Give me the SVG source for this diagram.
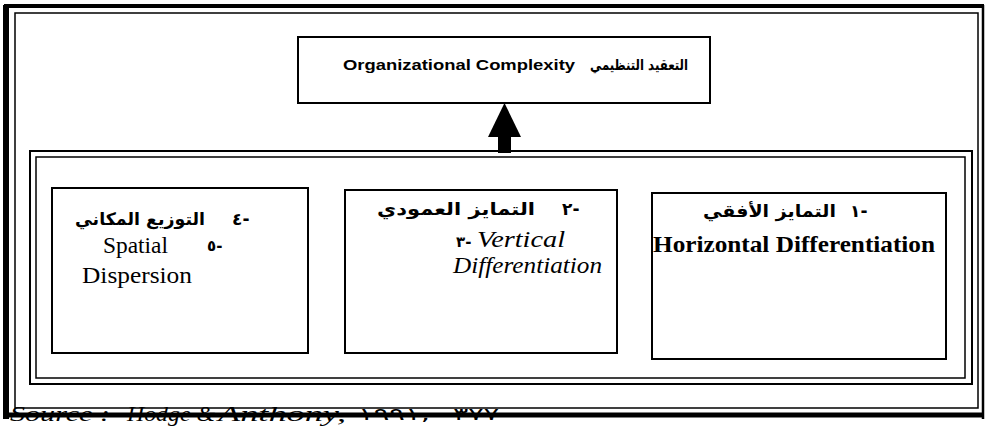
<svg xmlns="http://www.w3.org/2000/svg" width="986" height="429" viewBox="0 0 986 429">
  <style>
    .box { fill: #fff; stroke: #000; stroke-width: 2; }
    .frame { fill: none; stroke: #000; }
    .ar { font-family: "DejaVu Sans", sans-serif; font-weight: bold; fill: #000; }
    .num { font-family: "DejaVu Sans", sans-serif; font-weight: bold; fill: #000; direction: ltr; }
    .en { font-family: "Liberation Serif", "Times New Roman", serif; fill: #000; }
    .ensans { font-family: "Liberation Sans", Arial, sans-serif; font-weight: bold; fill: #000; }
    .src { font-family: "Liberation Serif", "Times New Roman", serif; font-style: italic; fill: #000; }
    .srcnum { font-family: "DejaVu Sans", sans-serif; font-weight: normal; fill: #000; }
  </style>
  <defs>
    <marker id="head" markerUnits="userSpaceOnUse" markerWidth="34" markerHeight="34" viewBox="0 0 34 34" refX="0" refY="16.5" orient="auto">
      <path d="M0,0 L34,16.5 L0,33 Z" fill="#000"/>
    </marker>
  </defs>

  <rect width="986" height="429" fill="#fff"/>

  <!-- source line, printed under the bottom border so the rule runs through it -->
  <g id="source">
    <text class="src" y="421" font-size="20">
      <tspan x="10" textLength="100" lengthAdjust="spacingAndGlyphs">Source :</tspan>
      <tspan x="127" textLength="88" lengthAdjust="spacingAndGlyphs">Hodge &amp;</tspan>
      <tspan x="218" textLength="128" lengthAdjust="spacingAndGlyphs">Anthony,</tspan>
    </text>
    <text class="srcnum" x="358" y="420" font-size="17" textLength="72" lengthAdjust="spacingAndGlyphs">١٩٩١,</text>
    <text class="srcnum" x="453" y="420" font-size="17" textLength="46" lengthAdjust="spacingAndGlyphs">٣٧٧</text>
  </g>

  <!-- page border: heavy outer line, thin inner line -->
  <g id="page-border">
    <line class="frame" x1="6" y1="5" x2="6" y2="419" stroke-width="6"/>
    <line class="frame" x1="4" y1="6" x2="984" y2="6" stroke-width="4"/>
    <line class="frame" x1="983" y1="5" x2="983" y2="419" stroke-width="2.5"/>
    <line class="frame" x1="4" y1="415" x2="984" y2="415" stroke-width="5"/>
    <rect class="frame" x="15" y="13" width="963" height="395" stroke-width="1.5"/>
  </g>

  <!-- double frame around the three dimensions -->
  <g id="dimensions-frame">
    <rect class="frame" x="30" y="151" width="942" height="233" stroke-width="2"/>
    <rect class="frame" x="36" y="157" width="929" height="221" stroke-width="1.5"/>
  </g>

  <g id="connectors">
    <line x1="504.5" y1="153" x2="504.5" y2="137" stroke="#000" stroke-width="13" marker-end="url(#head)"/>
  </g>

  <g id="complexity">
    <rect class="box" x="298" y="37" width="412" height="66"/>
    <text class="ensans" x="343" y="70" font-size="15" textLength="232" lengthAdjust="spacingAndGlyphs">Organizational Complexity</text>
    <text class="ar" x="688" y="70" font-size="15" direction="rtl" unicode-bidi="embed" text-anchor="start" textLength="98" lengthAdjust="spacingAndGlyphs">التعقيد التنظيمي</text>
  </g>

  <g id="spatial">
    <rect class="box" x="52" y="188" width="256" height="165"/>
    <text class="ar" x="205" y="225" font-size="17" direction="rtl" unicode-bidi="embed" text-anchor="start" textLength="130" lengthAdjust="spacingAndGlyphs">التوزيع المكاني</text>
    <text class="num" x="232" y="225" font-size="17">٤-</text>
    <text class="en" x="103" y="253" font-size="24" textLength="65" lengthAdjust="spacingAndGlyphs">Spatial</text>
    <text class="num" x="207" y="251" font-size="15">٥-</text>
    <text class="en" x="82" y="283" font-size="24" textLength="110" lengthAdjust="spacingAndGlyphs">Dispersion</text>
  </g>

  <g id="vertical">
    <rect class="box" x="345" y="190" width="272" height="163"/>
    <text class="ar" x="535" y="215" font-size="17" direction="rtl" unicode-bidi="embed" text-anchor="start" textLength="158" lengthAdjust="spacingAndGlyphs">التمايز العمودي</text>
    <text class="num" x="562" y="215" font-size="17">٢-</text>
    <text class="num" x="456" y="247" font-size="15">٣-</text>
    <text class="en" x="477" y="247" font-size="24" font-style="italic" textLength="88" lengthAdjust="spacingAndGlyphs">Vertical</text>
    <text class="en" x="453" y="273" font-size="24" font-style="italic" textLength="149" lengthAdjust="spacingAndGlyphs">Differentiation</text>
  </g>

  <g id="horizontal">
    <rect class="box" x="652" y="193" width="294" height="166"/>
    <text class="ar" x="836" y="217" font-size="17" direction="rtl" unicode-bidi="embed" text-anchor="start" textLength="133" lengthAdjust="spacingAndGlyphs">التمايز الأفقي</text>
    <text class="num" x="850" y="217" font-size="17">١-</text>
    <text class="en" x="653" y="252" font-size="24" font-weight="bold" textLength="282" lengthAdjust="spacingAndGlyphs">Horizontal Differentiation</text>
  </g>
</svg>
